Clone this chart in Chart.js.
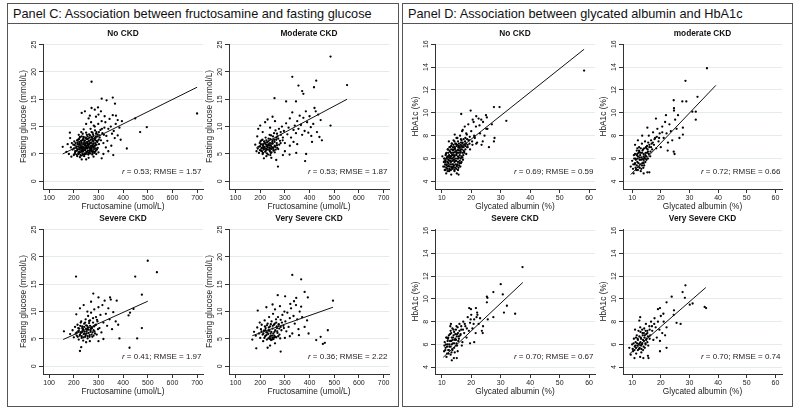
<!DOCTYPE html>
<html>
<head>
<meta charset="utf-8">
<script src="https://cdn.jsdelivr.net/npm/chart.js@4.4.1/dist/chart.umd.min.js"></script>
<style>
  body { margin: 0; width: 800px; height: 414px; background: #fff; position: relative; overflow: hidden;
         font-family: 'Liberation Sans', Arial, sans-serif; }
  .panel { position: absolute; border: 1px solid #555; box-sizing: border-box; }
  .ptitle { position: absolute; left: 0; right: 0; top: 0; height: 19px; border-bottom: 1px solid #555;
            font-size: 12.75px; line-height: 20px; padding-left: 5px; color: #111; white-space: nowrap; }
  canvas { position: absolute; }
</style>
</head>
<body>
<div class="panel" style="left:7px;top:3px;width:392px;height:404px">
  <div class="ptitle">Panel C: Association between fructosamine and fasting glucose</div>
</div>
<div class="panel" style="left:402px;top:3px;width:391px;height:404px">
  <div class="ptitle">Panel D: Association between glycated albumin and HbA1c</div>
</div>

<script>
// ---- data ----
const fructoTicks = [100, 200, 300, 400, 500, 600, 700];
const glucoseTicks = [0, 5, 10, 15, 20, 25];
const albuminTicks = [10, 20, 30, 40, 50, 60];
const hba1cTicks = [4, 6, 8, 10, 12, 14, 16];

const subplotTitles = ['No CKD', 'Moderate CKD', 'Severe CKD', 'Very Severe CKD',
                       'No CKD', 'moderate CKD', 'Severe CKD', 'Very Severe CKD'];
const statLabels = [' = 0.53; RMSE = 1.57', ' = 0.53; RMSE = 1.87', ' = 0.41; RMSE = 1.97', ' = 0.36; RMSE = 2.22',
                    ' = 0.69; RMSE = 0.59', ' = 0.72; RMSE = 0.66', ' = 0.70; RMSE = 0.67', ' = 0.70; RMSE = 0.74'];

// fructosamine (umol/L) vs fasting glucose (mmol/L)
const cNoCkd = [
  [205,5.2],[210,6.1],[212,5.6],[215,6.8],[218,5.0],[220,6.3],[222,7.2],[224,5.8],[226,6.6],[228,5.3],
  [230,7.0],[231,6.0],[233,5.5],[234,6.4],[236,7.6],[237,4.9],[238,6.8],[240,5.7],[241,6.2],[243,7.3],
  [244,5.1],[245,6.6],[247,5.9],[248,8.0],[250,6.3],[251,5.4],[252,7.1],[254,6.0],[255,6.9],[257,5.6],
  [258,7.8],[260,6.4],[261,5.2],[263,7.4],[264,6.1],[266,8.4],[267,5.8],[269,7.0],[270,6.5],[272,9.0],
  [273,5.5],[275,7.7],[277,6.3],[278,8.6],[280,6.9],[282,5.9],[284,7.9],[286,9.3],[288,6.6],[290,8.2],
  [195,5.8],[198,6.7],[200,4.8],[202,7.3],[207,5.5],[214,4.6],[217,7.6],[221,5.1],[225,8.1],[229,6.2],
  [232,4.7],[235,5.9],[239,7.9],[242,4.6],[246,7.0],[249,5.0],[253,8.5],[256,6.6],[259,4.9],[262,6.8],
  [265,5.4],[268,9.6],[271,6.1],[274,8.0],[276,5.2],[279,7.3],[281,10.2],[283,6.4],[287,7.5],[289,5.6],
  [292,9.0],[295,7.2],[297,8.6],[299,10.5],[302,6.8],[305,8.0],[308,9.4],[310,7.5],[313,11.0],[316,8.8],
  [320,7.0],[324,9.8],[328,10.8],[332,8.3],[336,7.4],[340,9.6],[345,11.4],[350,10.0],[355,8.7],[362,9.2],
  [370,10.5],[378,8.4],[170,5.4],[175,6.8],[180,5.0],[185,7.9],[188,6.2],[190,4.5],[192,7.0],[184,8.9],
  [155,6.3],[272,18.2],[700,12.4],[496,9.9],[469,9.0],[415,6.0],[449,11.5],[358,15.3],[313,15.1],[333,14.8],
  [367,14.2],[245,12.8],[232,12.5],[272,13.4],[285,13.1],[298,13.5],[358,12.1],[371,12.0],[378,11.2],[360,4.8],
  [313,4.2],[232,4.0],[260,11.5],[270,10.8],[290,11.8],[300,12.2],[310,12.8],[325,11.9],[265,12.0],[250,10.5],
  [240,9.5],[230,9.0],[220,8.5],[285,10.0],[330,6.2],[340,5.5],[320,5.0],[300,5.3],[280,4.5],[260,4.3],
  [250,4.0],[225,4.4],[385,9.8],[390,7.6],[395,11.0],[352,6.5],[366,7.9],
  [203,5.0],[211,4.9],[219,5.3],[227,4.8],[235,5.1],[243,4.9],[251,5.2],[259,5.0],[267,5.1],[275,4.9],[283,5.2],[291,5.0],
  [206,5.5],[214,5.7],[222,5.4],[230,5.6],[238,5.5],[246,5.7],[254,5.4],[262,5.6],[270,5.7],[278,5.5],[286,5.4],[294,5.8],
  [201,6.0],[209,6.2],[217,5.9],[225,6.1],[233,6.0],[241,5.9],[249,6.1],[257,6.2],[265,6.0],[273,5.9],[281,6.2],[289,6.0],[297,6.1],
  [204,6.6],[212,6.4],[220,6.7],[228,6.5],[236,6.3],[244,6.6],[252,6.5],[260,6.7],[268,6.4],[276,6.6],[284,6.5],[292,6.7],
  [207,7.0],[215,7.1],[223,6.9],[231,7.2],[239,7.0],[247,6.9],[255,7.2],[263,7.0],[271,7.1],[279,6.9],[287,7.0],[295,7.3],
  [213,7.5],[221,7.7],[229,7.4],[237,7.6],[245,7.5],[253,7.7],[261,7.4],[269,7.6],[277,7.5],[285,7.7],[293,7.4],[301,7.6],
  [224,8.0],[232,8.2],[240,8.1],[248,7.9],[256,8.2],[264,8.0],[272,8.1],[280,8.3],[288,7.9],[296,8.2],[304,8.4],
  [236,8.7],[250,8.9],[262,8.6],[276,8.9],[290,8.7],[302,9.0],[314,9.6],[322,8.5]
];
const cModerate = [
  [190,6.0],[195,5.2],[198,7.0],[200,6.4],[203,5.6],[205,7.5],[207,6.1],[210,5.0],[212,6.8],[214,5.8],
  [216,7.3],[218,6.3],[220,5.4],[222,8.0],[224,6.7],[226,5.9],[228,7.1],[230,6.2],[232,4.9],[234,7.8],
  [236,6.5],[238,5.7],[240,7.0],[242,6.0],[244,8.4],[246,5.3],[248,6.9],[250,7.5],[252,6.2],[254,5.6],
  [256,8.8],[258,7.2],[260,6.4],[262,9.3],[265,7.6],[268,6.6],[270,8.2],[273,5.9],[276,9.6],[280,7.4],
  [284,8.5],[288,10.0],[292,8.0],[296,9.2],[300,7.0],[305,10.6],[310,8.6],[180,6.7],[185,5.5],[188,8.2],
  [192,9.6],[200,10.2],[210,9.0],[220,10.8],[230,11.3],[240,9.8],[250,11.8],[260,11.0],[245,4.3],[225,4.6],
  [215,4.2],[315,9.8],[320,11.5],[325,8.0],[330,12.6],[335,9.4],[340,10.2],[345,8.8],[350,11.0],[355,9.6],
  [360,12.0],[365,10.3],[370,8.5],[375,11.6],[380,9.2],[385,12.8],[390,10.8],[395,8.9],[400,11.9],[405,9.9],
  [410,7.2],[415,10.5],[430,9.0],[435,12.2],[445,11.2],[450,7.5],[320,6.5],[335,7.2],[350,6.8],[300,5.5],
  [485,22.8],[330,19.1],[427,18.4],[355,17.5],[418,17.2],[552,17.6],[370,16.5],[375,16.0],[485,10.2],[305,14.6],
  [345,14.6],[420,13.4],[425,12.8],[258,15.2],[407,8.3],[440,8.1],[386,5.0],[382,3.7],[272,2.7],[346,5.2],
  [319,4.9],[292,4.8],[241,4.8],[265,3.9],
  [195,6.3],[203,6.8],[211,6.5],[219,6.9],[227,6.4],[235,6.8],[243,6.6],[251,6.9],[259,6.5],[267,7.0],
  [199,5.7],[207,5.5],[215,5.9],[223,5.6],[231,5.8],[239,5.5],[247,5.9],[255,5.7],[263,5.8],
  [201,7.3],[209,7.6],[217,7.2],[225,7.5],[233,7.3],[241,7.7],[249,7.2],[257,7.6],[265,8.0],[273,7.8],
  [205,6.0],[213,6.2],[221,6.0],[229,6.6],[237,6.1],[245,6.3],[253,6.1],[261,6.3],[269,6.1],[277,6.7],
  [211,5.2],[227,5.1],[243,5.2],[259,5.3],[283,7.0],[291,7.5],[283,9.0],[268,8.7],[252,8.2],[238,8.5]
];
const cSevere = [
  [160,6.4],[185,5.9],[195,6.6],[200,5.3],[205,7.2],[208,6.0],[212,5.6],[215,7.6],[218,6.4],[220,4.9],
  [222,6.9],[225,5.8],[228,8.0],[230,6.2],[232,5.2],[234,7.3],[236,6.6],[238,4.7],[240,5.9],[242,7.8],
  [244,6.4],[246,5.4],[248,8.6],[250,6.9],[252,6.0],[254,7.4],[256,5.1],[258,9.2],[260,6.7],[262,7.9],
  [264,5.7],[266,8.4],[268,6.3],[270,9.8],[272,7.1],[275,5.4],[278,8.8],[280,6.6],[283,10.4],[286,7.5],
  [290,9.0],[293,5.8],[296,8.2],[300,10.8],[304,7.0],[308,9.4],[312,6.2],[316,11.2],[320,8.0],[325,12.0],
  [330,9.6],[335,7.4],[340,10.6],[345,8.6],[350,12.2],[355,6.8],[360,9.9],[370,8.2],[380,7.6],[385,5.1],
  [210,9.5],[225,10.6],[240,11.2],[255,10.0],[270,11.8],[265,4.6],[250,4.4],[300,4.6],[320,5.0],[230,3.5],
  [500,19.3],[537,17.2],[449,16.4],[476,13.1],[209,16.4],[279,13.3],[300,12.6],[347,12.6],[374,12.0],[422,9.3],
  [428,9.8],[442,10.5],[476,7.0],[426,3.4],[457,5.1],[225,2.8],
  [212,6.2],[220,6.5],[228,6.1],[236,6.3],[244,6.0],[252,6.4],[260,6.1],[268,6.6],[276,6.2],[284,6.4],
  [216,5.4],[224,5.6],[232,5.5],[240,5.3],[248,5.7],[256,5.5],[264,5.4],[272,5.8],[280,5.6],
  [218,7.0],[226,7.4],[234,7.0],[242,7.2],[250,7.5],[258,7.1],[266,7.4],[274,7.0],[282,7.3],[290,7.6],
  [230,8.2],[246,8.0],[262,8.3],[278,8.0],[294,8.5],[238,6.8],[254,6.7],[270,6.9],[286,6.0],[298,6.8]
];
const cVerySevere = [
  [168,4.9],[175,6.3],[182,5.6],[188,7.1],[190,10.2],[195,6.0],[198,8.0],[200,5.2],[203,6.8],[206,7.6],
  [210,5.8],[212,4.6],[215,6.5],[218,8.4],[220,5.5],[222,7.0],[225,6.2],[227,4.9],[230,7.8],[232,5.9],
  [234,6.6],[236,9.0],[238,5.3],[240,7.3],[242,6.0],[244,4.8],[246,8.2],[248,5.6],[250,6.9],[252,9.6],
  [254,5.0],[256,7.6],[258,6.3],[260,10.4],[262,5.4],[265,8.0],[268,7.0],[270,6.1],[272,9.0],[275,7.7],
  [278,5.8],[280,11.0],[283,8.5],[286,6.6],[290,9.4],[294,7.4],[298,10.0],[302,8.2],[306,6.4],[310,9.8],
  [315,7.2],[320,8.8],[325,10.6],[330,6.0],[335,9.2],[340,7.8],[345,11.2],[350,8.6],[355,6.8],[360,10.0],
  [370,9.0],[380,7.2],[390,8.4],[300,5.2],[320,5.5],[260,4.2],[240,3.8],[230,3.4],[250,11.3],[225,10.8],
  [330,16.7],[366,15.9],[271,13.0],[301,12.8],[346,12.5],[380,13.6],[393,12.6],[337,11.9],[322,11.4],[366,10.9],
  [495,12.0],[396,6.0],[357,5.7],[427,4.8],[445,5.4],[454,4.1],[462,4.3],[474,6.6],[283,2.7],[184,3.3],
  [205,6.4],[213,6.0],[221,6.6],[229,6.2],[237,6.5],[245,6.3],[253,6.0],[261,6.6],[269,6.4],[277,6.9],
  [217,5.2],[225,5.7],[233,5.1],[241,5.5],[249,5.2],[257,5.6],[265,5.3],[273,5.5],[281,5.1],
  [219,7.3],[227,7.5],[235,7.1],[243,7.7],[251,7.4],[259,7.8],[267,7.3],[275,7.6],[283,7.2],
  [240,5.0],[248,4.9],[256,5.3],[264,8.6],[288,8.0],[296,7.0]
];

// glycated albumin (%) vs HbA1c (%)
const dNoCkd = [
  [10.5,5.3],[10.8,6.0],[11,5.0],[11.2,5.7],[11.4,6.4],[11.6,5.4],[11.8,6.1],[12,4.9],[12.1,6.8],[12.3,5.6],
  [12.5,6.2],[12.6,5.1],[12.8,7.0],[13,5.8],[13.1,6.5],[13.3,5.3],[13.4,7.3],[13.6,6.0],[13.8,6.8],[13.9,5.5],
  [14,7.6],[14.2,6.3],[14.3,5.0],[14.5,6.9],[14.6,5.8],[14.8,7.3],[15,6.4],[15.1,5.4],[15.3,7.8],[15.5,6.7],
  [15.6,6.0],[15.8,7.1],[16,5.6],[16.2,8.0],[16.3,6.5],[16.5,7.4],[16.7,6.1],[16.9,8.4],[17,7.0],[17.2,5.9],
  [17.4,7.7],[17.6,6.6],[17.8,8.8],[18,7.3],[18.3,6.4],[18.5,8.1],[18.8,7.0],[19,9.0],[19.3,7.6],[19.6,6.8],
  [20,8.4],[20.4,7.2],[20.8,9.2],[21.2,7.8],[21.6,8.8],[22,7.4],[22.5,9.5],[23,8.2],[23.5,7.2],[24,9.2],
  [24.5,8.0],[25,9.8],[25.5,8.6],[26,7.0],[27,9.0],[11.5,4.7],[12.4,7.5],[13.2,4.6],[14.4,8.1],[15.7,4.6],
  [12.2,5.9],[13.5,6.3],[14.7,6.6],[15.9,7.0],[17.1,7.4],[14.1,5.9],[13.7,5.2],[12.9,6.1],[16.4,6.8],[18.6,7.7],
  [58.3,13.7],[31.9,9.3],[29.6,10.5],[27.7,10.5],[19.8,10.2],[16.6,9.9],[25.3,9.6],[23.4,9.4],[21.7,9.7],[20.5,9.4],
  [22.8,8.9],[25.1,8.6],[27.9,7.8],[27.7,7.5],[21.1,7.9],[21.7,7.3],[23.9,7.5],[15.1,4.7],[12.6,5.0],[10.2,6.2],
  [17.1,8.5],[18.3,8.2],
  [11.3,5.0],[11.9,5.1],[12.5,4.9],[13.1,5.0],[13.7,5.1],[14.3,4.9],[14.9,5.1],[15.5,5.0],
  [10.9,5.3],[11.5,5.2],[12.1,5.3],[12.7,5.3],[13.3,5.2],[13.9,5.3],[14.5,5.2],[15.1,5.3],[15.7,5.2],[16.3,5.3],
  [11.1,5.5],[11.7,5.5],[12.3,5.4],[12.9,5.5],[13.5,5.5],[14.1,5.4],[14.7,5.5],[15.3,5.5],[15.9,5.4],[16.5,5.6],
  [10.7,5.7],[11.3,5.8],[11.9,5.7],[12.5,5.8],[13.1,5.7],[13.7,5.8],[14.3,5.7],[14.9,5.8],[15.5,5.7],[16.1,5.8],[16.7,5.7],
  [11.0,6.0],[11.6,6.0],[12.2,6.1],[12.8,6.0],[13.4,6.0],[14.0,6.1],[14.6,6.0],[15.2,6.0],[15.8,6.1],[16.4,6.0],[17.0,6.1],
  [11.3,6.3],[11.9,6.2],[12.5,6.3],[13.1,6.2],[13.7,6.3],[14.3,6.2],[14.9,6.3],[15.5,6.2],[16.1,6.3],[16.7,6.2],[17.3,6.3],
  [11.6,6.5],[12.2,6.5],[12.8,6.6],[13.4,6.5],[14.0,6.5],[14.6,6.6],[15.2,6.5],[15.8,6.5],[16.4,6.6],[17.0,6.5],[17.6,6.5],
  [12.0,6.8],[12.6,6.7],[13.2,6.8],[13.8,6.7],[14.4,6.8],[15.0,6.7],[15.6,6.8],[16.2,6.7],[16.8,6.8],[17.4,6.7],[18.0,6.8],
  [12.6,7.0],[13.2,7.1],[13.8,7.0],[14.4,7.0],[15.0,7.1],[15.6,7.0],[16.2,7.0],[16.8,7.1],[17.4,7.0],[18.0,7.1],[18.6,7.0],
  [13.4,7.3],[14.0,7.2],[14.6,7.3],[15.2,7.2],[15.8,7.3],[16.4,7.2],[17.0,7.3],[17.6,7.2],[18.2,7.3],[18.8,7.2],[19.4,7.3],
  [14.3,7.5],[15.5,7.5],[16.7,7.6],[17.9,7.5],[19.1,7.6],[20.3,7.5],
  [15.0,7.8],[16.5,7.7],[18.0,7.8],[19.5,7.9],[21.0,8.0]
];
const dModerate = [
  [9.5,5.3],[10,5.8],[10.3,5.1],[10.6,6.3],[10.9,5.5],[11.2,6.0],[11.4,5.0],[11.6,6.7],[11.8,5.7],[12,6.2],
  [12.2,5.3],[12.4,7.0],[12.6,5.9],[12.8,6.5],[13,4.9],[13.2,6.1],[13.4,7.3],[13.6,5.6],[13.8,6.8],[14,6.2],
  [14.2,5.4],[14.5,7.5],[14.7,6.5],[15,5.9],[15.2,7.1],[15.5,6.6],[15.8,8.0],[16,7.0],[16.3,6.2],[16.6,7.6],
  [17,6.8],[17.3,8.3],[17.6,7.2],[18,7.8],[18.4,6.9],[18.8,8.6],[19.2,7.5],[19.6,8.2],[20,7.0],[20.5,8.8],
  [21,7.8],[21.5,9.2],[22,8.2],[22.5,7.4],[23,9.0],[23.5,8.4],[24,7.6],[25,9.4],[25.5,8.6],[26,9.8],
  [26.5,7.8],[11,7.2],[12,7.6],[13.5,8.0],[14,4.7],[16,4.8],[10.5,4.7],[12.5,6.6],[13.9,5.9],[15,6.9],
  [11.8,6.4],[16.8,7.3],[14.5,6.0],
  [36.1,13.9],[28.6,12.8],[32.8,11.4],[24.5,11.1],[27.5,11.0],[28.9,11.0],[24.6,10.4],[24.6,10.2],[31,10.1],[32.2,10.1],
  [32.2,9.4],[21.8,9.8],[18.3,9.5],[24.5,6.6],[24.8,6.4],[22.4,6.7],[27.7,8.7],[27.7,8.1],[15.3,8.7],[15.3,4.8],
  [10.4,5.5],[11.0,5.6],[11.6,5.4],[12.2,5.6],[12.8,5.5],[13.4,5.4],[14.0,5.6],[14.6,5.7],
  [10.7,6.0],[11.3,5.9],[11.9,6.0],[12.5,6.1],[13.1,5.9],[13.7,6.0],[14.3,6.1],[14.9,6.2],[15.5,6.0],
  [11.0,6.4],[11.6,6.3],[12.2,6.5],[12.8,6.3],[13.4,6.5],[14.0,6.4],[14.6,6.3],[15.2,6.5],[15.8,6.4],[16.4,6.6],
  [11.8,6.9],[12.4,6.7],[13.0,6.9],[13.6,6.7],[14.2,6.9],[14.8,7.0],[15.4,6.8],[16.0,7.2],[16.6,7.0],[17.2,7.4],
  [12.0,5.0],[12.6,5.2],[13.2,5.1],[11.2,5.2],[13.9,5.2],[15.6,7.4],[17.8,7.7],[18.6,7.9],[19.4,7.8],[20.5,8.3]
];
const dSevere = [
  [10.8,5.4],[11,6.2],[11.3,5.7],[11.5,6.6],[11.8,5.2],[12,6.0],[12.2,5.5],[12.4,6.8],[12.6,5.8],[12.8,6.3],
  [13,5.1],[13.2,7.0],[13.4,6.0],[13.6,5.6],[13.8,6.6],[14,7.3],[14.2,6.1],[14.4,5.3],[14.6,6.9],[14.8,6.4],
  [15,7.6],[15.2,5.9],[15.5,7.0],[15.8,6.5],[16,7.8],[16.3,6.8],[16.6,7.3],[17,6.2],[17.3,8.0],[17.6,7.0],
  [18,7.6],[18.4,6.6],[18.8,8.4],[19.2,7.2],[19.6,7.9],[20,8.6],[20.4,7.4],[21,8.2],[21.5,7.0],[22,8.8],
  [22.5,7.8],[23,8.3],[24,7.6],[11.6,4.9],[12.9,7.6],[14.1,4.8],[15.4,5.4],[16.8,5.9],[13.7,6.4],[12.1,6.5],
  [15.1,6.7],
  [37.4,12.8],[30.0,11.3],[30.7,10.4],[25.3,10.2],[25.5,10.1],[27.5,10.6],[25.3,9.7],[32.1,9.4],[31.1,8.8],[34.9,8.7],
  [27.5,8.4],[25.6,8.2],[22.1,8.6],[21.6,9.2],[19.3,9.2],[19.9,9.1],[23.6,7.2],[23.9,7.0],[21.0,6.2],[19.6,6.1],
  [13.4,4.6],[15.1,4.8],[13.1,7.8],
  [11.2,5.5],[11.8,5.8],[12.4,5.5],[13.0,5.8],[13.6,5.5],[14.2,5.7],[14.8,5.9],
  [11.4,6.0],[12.0,6.3],[12.6,6.0],[13.2,6.3],[13.8,6.1],[14.4,6.4],[15.0,6.1],[15.6,6.3],
  [12.2,6.6],[12.8,6.9],[13.4,6.6],[14.0,6.8],[14.6,6.5],[15.2,6.9],[15.8,6.7],[16.4,6.9],
  [13.0,7.2],[13.6,7.4],[14.2,7.1],[14.8,7.3],[15.4,7.5],[16.0,7.2],[16.6,7.6],[17.2,7.3],[17.8,7.8],
  [12.3,5.2],[13.3,5.3],[10.9,5.9],[11.7,6.6],[18.5,7.4],[19.8,8.2],[20.8,7.8],[21.8,8.4]
];
const dVerySevere = [
  [9,5.7],[9.5,5.1],[10,6.0],[10.3,5.4],[10.6,6.5],[10.9,5.8],[11.2,6.2],[11.4,5.2],[11.6,6.8],[11.8,5.9],
  [12,6.4],[12.2,7.2],[12.4,5.6],[12.6,6.1],[12.8,7.5],[13,6.6],[13.2,5.3],[13.4,6.0],[13.6,7.0],[13.8,6.4],
  [14,5.8],[14.2,7.4],[14.4,6.8],[14.6,6.1],[14.8,7.8],[15,6.5],[15.3,7.2],[15.6,5.9],[16,7.6],[16.3,6.8],
  [16.6,8.0],[17,7.2],[17.4,6.4],[17.8,8.3],[18.2,7.5],[18.6,6.6],[19,8.0],[19.5,7.3],[20,8.5],[20.5,7.0],
  [21,8.0],[21.5,6.8],[22,7.5],[11,7.3],[12.5,8.1],[13.9,4.8],[15.5,5.0],[10.8,4.8],[13.1,5.9],[14.9,6.9],
  [28.6,11.2],[27.6,10.6],[23.8,10.2],[28.4,10.1],[30.1,9.5],[31.1,9.6],[35.3,9.3],[35.8,9.2],[19.7,9.2],[19.0,9.1],
  [20.9,8.7],[22.0,9.7],[24.6,9.0],[24.5,8.6],[25.5,7.9],[26.9,7.8],[12.8,8.4],[19.7,5.4],[22.0,5.7],[19.7,6.3],
  [15.7,4.8],[12.8,4.9],
  [10.2,5.6],[10.8,5.5],[11.4,5.7],[12.0,5.5],[12.6,5.7],[13.2,5.6],[13.8,5.5],[14.4,5.7],
  [10.5,6.1],[11.1,5.9],[11.7,6.1],[12.3,6.0],[12.9,6.2],[13.5,6.1],[14.1,6.3],[14.7,6.0],[15.3,6.2],
  [11.3,6.6],[11.9,6.5],[12.5,6.7],[13.1,6.5],[13.7,6.8],[14.3,6.6],[14.9,6.4],[15.5,6.7],[16.1,6.5],
  [12.9,7.1],[13.5,7.3],[14.1,7.0],[14.7,7.2],[15.3,7.0],[16.1,7.3],[16.9,7.6],[17.7,7.8]
];

// linear fit end points
const cFitNo = [[155,5.0],[700,17.2]];
const cFitModerate = [[185,6.2],[552,15.0]];
const cFitSevere = [[157,4.9],[500,11.9]];
const cFitVerySevere = [[168,5.6],[495,10.8]];
const dFitNo = [[10.5,5.75],[58.3,15.56]];
const dFitModerate = [[9.5,4.6],[39.2,12.4]];
const dFitSevere = [[10.5,4.87],[37.5,11.45]];
const dFitVerySevere = [[9,5.15],[35.7,11.0]];

// ---- layout ----
const FONT = "'Liberation Sans', Arial, sans-serif";
const INK = '#222';

const subplots = [
  { pts: cNoCkd, fit: cFitNo, area: [43, 44, 203, 189], x: [75, 724], y: [-1.4, 25.1], kind: 'c' },
  { pts: cModerate, fit: cFitModerate, area: [229, 44, 389, 189], x: [73.5, 722], y: [-1.4, 25.1], kind: 'c' },
  { pts: cSevere, fit: cFitSevere, area: [43, 229, 203, 374], x: [75, 724], y: [-1.4, 25.1], kind: 'c' },
  { pts: cVerySevere, fit: cFitVerySevere, area: [229, 229, 389, 374], x: [73.5, 722], y: [-1.4, 25.1], kind: 'c' },
  { pts: dNoCkd, fit: dFitNo, area: [435, 44, 595, 189], x: [7.7, 62], y: [3.34, 16.02], kind: 'd' },
  { pts: dModerate, fit: dFitModerate, area: [623, 44, 782, 189], x: [6.8, 62.3], y: [3.34, 16.02], kind: 'd' },
  { pts: dSevere, fit: dFitSevere, area: [435, 229, 595, 374], x: [7.7, 62], y: [3.4, 16.15], kind: 'd' },
  { pts: dVerySevere, fit: dFitVerySevere, area: [623, 229, 782, 374], x: [6.8, 62.3], y: [3.4, 16.15], kind: 'd' }
];

const overlay = {
  id: 'overlay',
  afterDraw(chart, args, o) {
    const { ctx, chartArea: a, scales: { y } } = chart;
    ctx.save();
    ctx.fillStyle = INK;
    ctx.textAlign = 'center';
    ctx.textBaseline = 'middle';
    ctx.font = '7px ' + FONT;
    o.yTicks.forEach(v => {
      ctx.save();
      ctx.translate(a.left - 9, y.getPixelForValue(v));
      ctx.rotate(-Math.PI / 2);
      ctx.fillText(String(v), 0, 0);
      ctx.restore();
    });
    // panel heading
    ctx.fillStyle = '#111';
    ctx.font = 'bold 8.3px ' + FONT;
    ctx.fillText(o.title, (a.left + a.right) / 2, a.top - 10.5);
    // r / RMSE note, italic r
    ctx.fillStyle = INK;
    ctx.textAlign = 'left';
    ctx.font = '8px ' + FONT;
    const wRest = ctx.measureText(o.stat).width;
    ctx.font = 'italic 8px ' + FONT;
    const wR = ctx.measureText('r').width;
    const x0 = a.right - 1.5 - wRest - wR;
    const yy = a.bottom - 17.5;
    ctx.fillText('r', x0, yy);
    ctx.font = '8px ' + FONT;
    ctx.fillText(o.stat, x0 + wR, yy);
    ctx.restore();
  }
};

function makeChart(p, i) {
  const padTop = 22, yw = 42, xh = 24, padR = 8;
  const W = p.area[2] - p.area[0] + yw + padR;
  const H = p.area[3] - p.area[1] + padTop + xh;
  const cv = document.createElement('canvas');
  cv.width = W; cv.height = H;
  cv.style.left = (p.area[0] - yw) + 'px';
  cv.style.top = (p.area[1] - padTop) + 'px';
  cv.style.width = W + 'px';
  cv.style.height = H + 'px';
  document.body.appendChild(cv);

  const isC = p.kind === 'c';
  const xTicks = isC ? fructoTicks : albuminTicks;
  const yTicks = isC ? glucoseTicks : hba1cTicks;

  new Chart(cv, {
    data: {
      datasets: [
        {
          type: 'scatter',
          data: p.pts.map(([x, y]) => ({ x, y })),
          pointRadius: 1.15,
          pointBorderWidth: 0,
          pointBackgroundColor: '#000',
          order: 2
        },
        {
          type: 'line',
          data: p.fit.map(([x, y]) => ({ x, y })),
          borderColor: '#111',
          borderWidth: 1,
          pointRadius: 0,
          fill: false,
          order: 1
        }
      ]
    },
    options: {
      responsive: false,
      animation: false,
      devicePixelRatio: 1,
      layout: { padding: { top: padTop, right: padR, left: 0, bottom: 0 } },
      plugins: {
        legend: { display: false },
        tooltip: { enabled: false },
        overlay: { yTicks, title: subplotTitles[i], stat: statLabels[i] }
      },
      scales: {
        x: {
          type: 'linear',
          min: p.x[0], max: p.x[1],
          afterBuildTicks: s => { s.ticks = xTicks.map(v => ({ value: v })); },
          afterFit: s => { s.height = xh; },
          grid: { drawOnChartArea: false, drawTicks: true, tickLength: 4, tickColor: '#333' },
          border: { display: true, color: '#333', width: 1 },
          ticks: { font: { family: FONT, size: 7 }, color: INK, padding: 1, maxRotation: 0, autoSkip: false },
          title: { display: true, text: isC ? 'Fructosamine (umol/L)' : 'Glycated albumin (%)',
                   font: { family: FONT, size: 8.3 }, color: INK, padding: { top: 0, bottom: 1.8 } }
        },
        y: {
          type: 'linear',
          min: p.y[0], max: p.y[1],
          afterBuildTicks: s => { s.ticks = yTicks.map(v => ({ value: v })); },
          afterFit: s => { s.width = yw; },
          grid: { color: '#e4ebed', lineWidth: 1, drawTicks: true, tickLength: 4, tickColor: '#333' },
          border: { display: true, color: '#333', width: 1 },
          ticks: { display: false },
          title: { display: true, text: isC ? 'Fasting glucose (mmol/L)' : 'HbA1c (%)',
                   font: { family: FONT, size: 8.3 }, color: INK, padding: { top: 17.3, bottom: 0 } }
        }
      }
    },
    plugins: [overlay]
  });
}

subplots.forEach(makeChart);
</script>
</body>
</html>
